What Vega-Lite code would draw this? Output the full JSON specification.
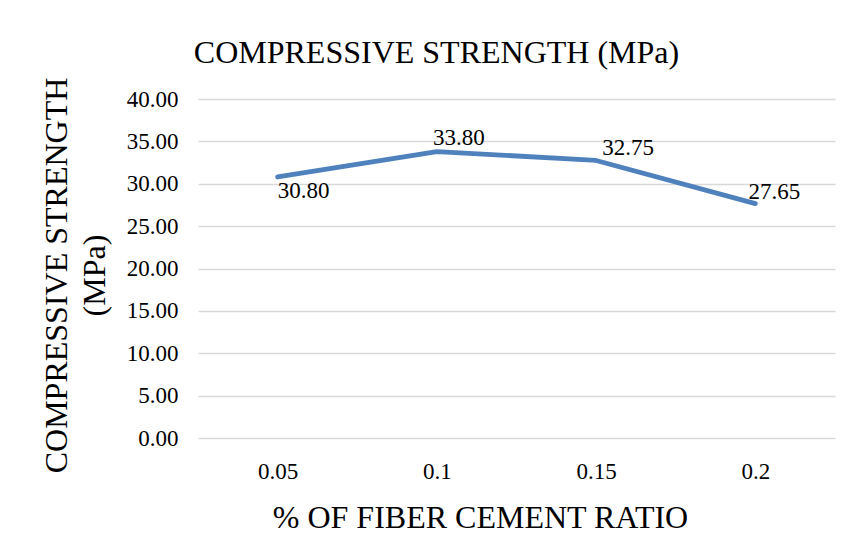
{
  "$schema": "https://vega.github.io/schema/vega-lite/v6.json",
  "width": 637,
  "height": 339,
  "autosize": {"type": "none"},
  "padding": {"left": 198, "top": 99, "right": 17, "bottom": 115},
  "background": "#ffffff",
  "title": {
    "text": "COMPRESSIVE STRENGTH (MPa)",
    "anchor": "middle",
    "frame": "group",
    "dx": -80,
    "offset": 7,
    "font": "Liberation Serif",
    "fontSize": 32,
    "fontWeight": "normal",
    "color": "#000000"
  },
  "config": {
    "view": {"stroke": null},
    "font": "Liberation Serif",
    "text": {"font": "Liberation Serif"},
    "axis": {
      "labelFont": "Liberation Serif",
      "titleFont": "Liberation Serif",
      "labelColor": "#000000",
      "titleColor": "#000000",
      "titleFontWeight": "normal",
      "ticks": false,
      "domain": false
    }
  },
  "data": {
    "values": [
      {"ratio": "0.05", "strength": 30.80},
      {"ratio": "0.1", "strength": 33.80},
      {"ratio": "0.15", "strength": 32.75},
      {"ratio": "0.2", "strength": 27.65}
    ]
  },
  "encoding": {
    "x": {
      "field": "ratio",
      "type": "ordinal",
      "sort": null,
      "scale": {"type": "point", "padding": 0.5},
      "axis": {
        "title": "% OF FIBER CEMENT RATIO",
        "titleFont": "Liberation Serif",
        "titleFontSize": 32,
        "titleX": 282,
        "titlePadding": 19,
        "labelFont": "Liberation Serif",
        "labelFontSize": 23,
        "labelAngle": 0,
        "labelPadding": 22,
        "grid": false
      }
    },
    "y": {
      "field": "strength",
      "type": "quantitative",
      "scale": {"domain": [0, 40], "nice": false, "zero": true},
      "axis": {
        "title": ["COMPRESSIVE STRENGTH", "(MPa)"],
        "titleFont": "Liberation Serif",
        "titleFontSize": 32,
        "titleLineHeight": 38,
        "titlePadding": 15,
        "titleY": 176,
        "labelFont": "Liberation Serif",
        "labelFontSize": 23,
        "labelPadding": 20,
        "format": ".2f",
        "values": [0, 5, 10, 15, 20, 25, 30, 35, 40],
        "grid": true,
        "gridColor": "#D9D9D9",
        "gridWidth": 1.3
      }
    }
  },
  "layer": [
    {
      "mark": {"type": "line", "color": "#4F81BD", "strokeWidth": 4.8, "strokeCap": "round", "strokeJoin": "round"}
    },
    {
      "transform": [{"filter": "datum.ratio == '0.05'"}],
      "mark": {"type": "text", "font": "Liberation Serif", "fontSize": 23, "color": "#000000", "align": "center", "baseline": "middle", "dx": 26, "dy": 14},
      "encoding": {"text": {"field": "strength", "type": "quantitative", "format": ".2f"}}
    },
    {
      "transform": [{"filter": "datum.ratio == '0.1'"}],
      "mark": {"type": "text", "font": "Liberation Serif", "fontSize": 23, "color": "#000000", "align": "center", "baseline": "middle", "dx": 22, "dy": -14},
      "encoding": {"text": {"field": "strength", "type": "quantitative", "format": ".2f"}}
    },
    {
      "transform": [{"filter": "datum.ratio == '0.15'"}],
      "mark": {"type": "text", "font": "Liberation Serif", "fontSize": 23, "color": "#000000", "align": "center", "baseline": "middle", "dx": 32, "dy": -12},
      "encoding": {"text": {"field": "strength", "type": "quantitative", "format": ".2f"}}
    },
    {
      "transform": [{"filter": "datum.ratio == '0.2'"}],
      "mark": {"type": "text", "font": "Liberation Serif", "fontSize": 23, "color": "#000000", "align": "center", "baseline": "middle", "dx": 19, "dy": -12},
      "encoding": {"text": {"field": "strength", "type": "quantitative", "format": ".2f"}}
    }
  ]
}
